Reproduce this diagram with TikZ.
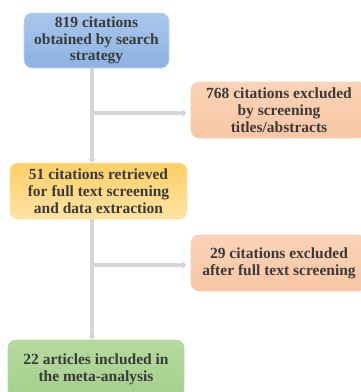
\documentclass[tikz,border=0pt]{standalone}
\usepackage{fontspec}
\setmainfont{Liberation Serif}
\usetikzlibrary{arrows.meta}
\definecolor{txt}{HTML}{3A3A3A}
\definecolor{line}{HTML}{D6D6D6}
\definecolor{blueT}{HTML}{A9C6EC}
\definecolor{blueB}{HTML}{8CB3E2}
\definecolor{yelT}{HTML}{FDD067}
\definecolor{yelB}{HTML}{FFE3A3}
\definecolor{grnT}{HTML}{B5DA9F}
\definecolor{grnB}{HTML}{A5CF8B}
\definecolor{pchT}{HTML}{FBD3B7}
\definecolor{pchB}{HTML}{F8C6A5}
\tikzset{
  box/.style={rounded corners=8pt, align=center, inner sep=0pt,
    font=\bfseries\fontsize{15.5}{16.8}\selectfont, text=txt},
  bluebox/.style={box, top color=blueT, bottom color=blueB, draw=blueT!70!white, line width=0.6pt},
  yelbox/.style={box, top color=yelT, bottom color=yelB, draw=yelB, line width=0.6pt},
  grnbox/.style={box, top color=grnT, bottom color=grnB, draw=grnT, line width=0.6pt},
  pchbox/.style={box, top color=pchT, bottom color=pchB, draw=pchT, line width=0.6pt},
  arr/.style={draw=line, line width=4pt, -{Triangle[length=4pt,width=7pt]}},
}
\begin{document}
\begin{tikzpicture}[x=1pt,y=-1pt]
\useasboundingbox (0,0) rectangle (360,392);
\node[bluebox, minimum width=145pt, minimum height=55pt] (b1) at (96.5,40.5)
  {819 citations\\obtained by search\\strategy};
\node[pchbox, minimum width=176pt, minimum height=56pt] (e1) at (279,110)
  {768 citations excluded\\by screening\\titles/abstracts};
\node[yelbox, minimum width=177pt, minimum height=56pt] (b2) at (98.5,191)
  {51 citations retrieved\\for full text screening\\and data extraction};
\node[pchbox, minimum width=176pt, minimum height=56pt] (e2) at (279,263)
  {29 citations excluded\\after full text screening};
\node[grnbox, minimum width=176pt, minimum height=58pt] (b3) at (96,369)
  {22 articles included in\\the meta-analysis};
\coordinate (j1) at (92,113);
\coordinate (j2) at (92,265);
\draw[arr] (b1.south -| j1) -- (b2.north -| j1);
\draw[arr] (j1) -- ([xshift=-4pt]e1.west |- j1);
\draw[arr] (b2.south -| j2) -- (b3.north -| j2);
\draw[arr] (j2) -- ([xshift=-4pt]e2.west |- j2);
\end{tikzpicture}
\end{document}
